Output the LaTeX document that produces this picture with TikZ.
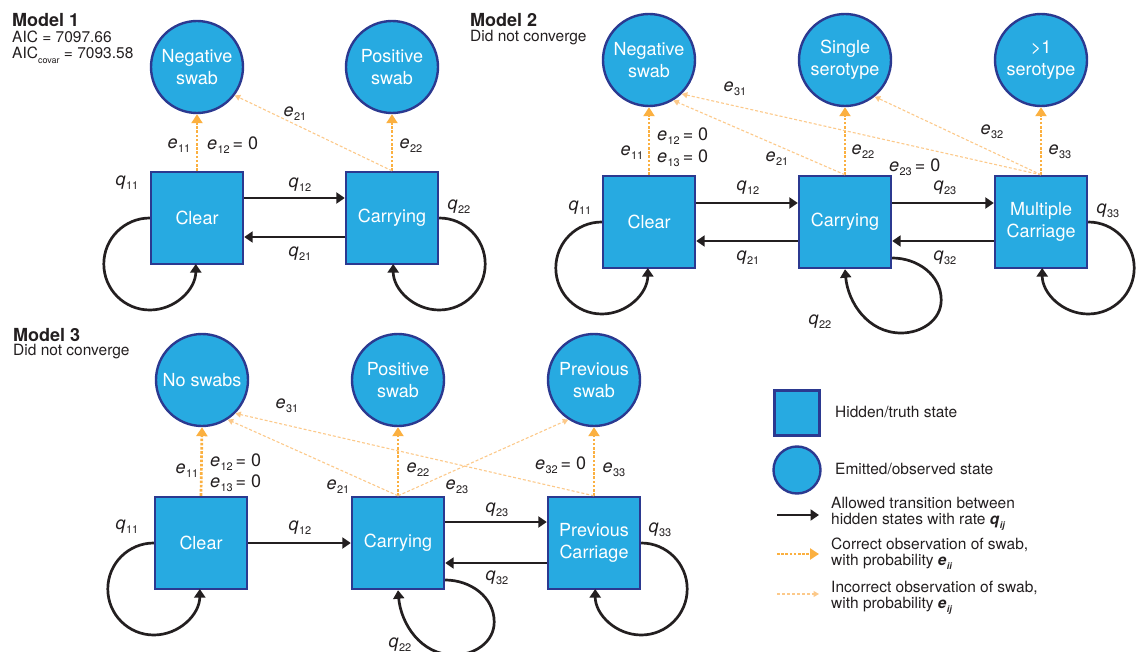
\documentclass[tikz,border=0pt]{standalone}
\usepackage{fontspec}
\setmainfont{TeX Gyre Heros}
\usetikzlibrary{arrows.meta}
\definecolor{boxfill}{HTML}{27AAE1}
\definecolor{boxdraw}{HTML}{2B3990}
\definecolor{ora}{HTML}{FBB040}
\definecolor{oral}{HTML}{FCC98A}
\definecolor{txt}{HTML}{231F20}
\newcommand\sub[2]{\textit{#1}\kern0.3pt\raisebox{-4pt}{\fontsize{11}{11}\selectfont #2}}
\newcommand\bsub[2]{\textbf{\textit{#1}}\kern0.3pt\raisebox{-4pt}{\fontsize{9}{9}\selectfont\textbf{\textit{#2}}}}
\tikzset{
  hid/.style={draw=boxdraw, line width=2.4pt, fill=boxfill, minimum size=92pt, inner sep=0pt,
    text=white, font=\fontsize{18}{22}\selectfont, align=center},
  obs/.style={circle, draw=boxdraw, line width=2.4pt, fill=boxfill, minimum size=92pt, inner sep=0pt,
    text=white, font=\fontsize{18}{22}\selectfont, align=center},
  trans/.style={line width=2.7pt, draw=txt, -{Triangle[length=8.5pt,width=11pt]}},
  corr/.style={line width=2.7pt, draw=ora, dash pattern=on 2.6pt off 1.6pt,
    -{Triangle[length=9pt,width=11pt,fill=ora]}},
  inc/.style={line width=1.1pt, draw=oral, dash pattern=on 3pt off 2pt,
    -{Triangle[length=5.5pt,width=6pt,fill=oral]}},
  lbl/.style={font=\fontsize{18}{20}\selectfont, text=txt, inner sep=0pt},
  lbll/.style={lbl, anchor=west},
  title/.style={font=\fontsize{18}{20}\selectfont\bfseries, text=txt, inner sep=0pt, anchor=base west},
  sub/.style={font=\fontsize{15.5}{16}\selectfont, text=txt, inner sep=0pt, anchor=base west},
  leg/.style={font=\fontsize{15.5}{16}\selectfont, text=txt, inner sep=0pt, anchor=west, align=left},
}
\begin{document}
\begin{tikzpicture}[x=1pt,y=1pt]
\useasboundingbox (0,0) rectangle (1137,-652);

% ---------------- Model 1 ----------------
\node[title] (m1t) at (12,-27) {Model 1};
\node[sub] (m1a) at (12,-43) {AIC = 7097.66};
\node[sub] (m1b) at (12,-59) {AIC\raisebox{-4.5pt}{\fontsize{9}{9}\selectfont covar} = 7093.58};

\node[obs] (c1neg) at (197,-67) {Negative\\swab};
\node[obs] (c1pos) at (392,-67) {Positive\\swab};
\node[hid] (c1clear) at (197,-218) {Clear};
\node[hid] (c1carry) at (392,-218) {Carrying};

\draw[trans] ([yshift=20]c1clear.east) -- ([yshift=20]c1carry.west);
\draw[trans] ([yshift=-19]c1carry.west) -- ([yshift=-19]c1clear.east);
\draw[trans] (c1clear.west) arc[start angle=90,end angle=360,radius=46];
\draw[trans] (c1carry.east) arc[start angle=90,end angle=-180,radius=46];
\draw[corr] (c1clear.north) -- (c1neg.south);
\draw[corr] (c1carry.north) -- (c1pos.south);
\draw[inc] (c1carry.north) -- (c1neg.-37);

\node[lbl] (l1q12) at (300,-185) {\sub{q}{12}};
\node[lbl] (l1q21) at (300,-254) {\sub{q}{21}};
\node[lbl] (l1q11) at (127,-183) {\sub{q}{11}};
\node[lbl] (l1q22) at (459,-207) {\sub{q}{22}};
\node[lbl] (l1e11) at (179,-146) {\sub{e}{11}};
\node[lbll] (l1e12) at (207,-145) {\sub{e}{12}\,= 0};
\node[lbl] (l1e21) at (295,-114) {\sub{e}{21}};
\node[lbl] (l1e22) at (411,-146) {\sub{e}{22}};

% ---------------- Model 2 ----------------
\node[title] (m2t) at (470,-27) {Model 2};
\node[sub] (m2a) at (470,-42) {Did not converge};

\node[obs] (c2neg) at (649,-60) {Negative\\swab};
\node[obs] (c2single) at (845,-60) {Single\\serotype};
\node[obs] (c2multi) at (1041,-60) {{>}1\\serotype};
\node[hid] (c2clear) at (649,-222) {Clear};
\node[hid] (c2carry) at (845,-222) {Carrying};
\node[hid] (c2mc) at (1041,-222) {Multiple\\Carriage};

\draw[trans] ([yshift=19]c2clear.east) -- ([yshift=19]c2carry.west);
\draw[trans] ([yshift=-19]c2carry.west) -- ([yshift=-19]c2clear.east);
\draw[trans] ([yshift=19]c2carry.east) -- ([yshift=19]c2mc.west);
\draw[trans] ([yshift=-19]c2mc.west) -- ([yshift=-19]c2carry.east);
\draw[trans] (c2clear.west) arc[start angle=90,end angle=360,radius=46];
\draw[trans] (c2mc.east) arc[start angle=90,end angle=-180,radius=46];
\draw[trans] ([yshift=-36]c2carry.east) to[out=0,in=90] ++(49,-42) to[out=-90,in=0] ++(-40,-33) to[out=180,in=-85] (c2carry.south);
\draw[corr] (c2clear.north) -- (c2neg.south);
\draw[corr] (c2carry.north) -- (c2single.south);
\draw[corr] (c2mc.north) -- (c2multi.south);
\draw[inc] (c2carry.north) -- (c2neg.-59);
\draw[inc] (c2mc.north) -- (c2neg.-46);
\draw[inc] (c2mc.north) -- (c2single.-51);

\node[lbl] (l2q12) at (748,-188) {\sub{q}{12}};
\node[lbl] (l2q21) at (748,-258) {\sub{q}{21}};
\node[lbl] (l2q23) at (945,-188) {\sub{q}{23}};
\node[lbl] (l2q32) at (945,-258) {\sub{q}{32}};
\node[lbl] (l2q11) at (580,-208) {\sub{q}{11}};
\node[lbl] (l2q33) at (1108,-211) {\sub{q}{33}};
\node[lbl] (l2q22) at (820,-322) {\sub{q}{22}};
\node[lbl] (l2e11) at (632,-153) {\sub{e}{11}};
\node[lbll] (l2e12) at (657,-136) {\sub{e}{12}\,= 0};
\node[lbll] (l2e13) at (657,-158) {\sub{e}{13}\,= 0};
\node[lbl] (l2e31) at (735,-89) {\sub{e}{31}};
\node[lbl] (l2e21) at (777,-159) {\sub{e}{21}};
\node[lbl] (l2e22) at (863,-152) {\sub{e}{22}};
\node[lbll] (l2e23) at (889,-167) {\sub{e}{23}\,= 0};
\node[lbl] (l2e32) at (992,-132) {\sub{e}{32}};
\node[lbl] (l2e33) at (1060,-152) {\sub{e}{33}};

% ---------------- Model 3 ----------------
\node[title] (m3t) at (13,-341) {Model 3};
\node[sub] (m3a) at (13,-355) {Did not converge};

\node[obs] (c3no) at (202,-380) {No swabs};
\node[obs] (c3pos) at (398,-380) {Positive\\swab};
\node[obs] (c3prev) at (594,-380) {Previous\\swab};
\node[hid] (c3clear) at (201,-543) {Clear};
\node[hid] (c3carry) at (398,-543) {Carrying};
\node[hid] (c3pc) at (594,-543) {Previous\\Carriage};

\draw[trans] (c3clear.east) -- (c3carry.west);
\draw[trans] ([yshift=21]c3carry.east) -- ([yshift=21]c3pc.west);
\draw[trans] ([yshift=-20]c3pc.west) -- ([yshift=-20]c3carry.east);
\draw[trans] (c3clear.west) arc[start angle=90,end angle=360,radius=46];
\draw[trans] (c3pc.east) arc[start angle=90,end angle=-180,radius=46];
\draw[trans] ([yshift=-37]c3carry.east) to[out=0,in=90] ++(49,-42) to[out=-90,in=0] ++(-40,-33) to[out=180,in=-85] (c3carry.south);
\draw[corr] (c3clear.north) -- (c3no.south);
\draw[corr] (c3carry.north) -- (c3pos.south);
\draw[corr] (c3pc.north) -- (c3prev.south);
\draw[inc] (c3carry.north) -- (c3no.-57);
\draw[inc] (c3pc.north) -- (c3no.-45);
\draw[inc] (c3carry.north) -- (c3prev.-123);

\node[lbl] (l3q12) at (300,-528) {\sub{q}{12}};
\node[lbl] (l3q23) at (497,-510) {\sub{q}{23}};
\node[lbl] (l3q32) at (497,-578) {\sub{q}{32}};
\node[lbl] (l3q11) at (127,-527) {\sub{q}{11}};
\node[lbl] (l3q33) at (660,-530) {\sub{q}{33}};
\node[lbl] (l3q22) at (400,-645) {\sub{q}{22}};
\node[lbl] (l3e11) at (187,-471) {\sub{e}{11}};
\node[lbll] (l3e12) at (210,-462) {\sub{e}{12}\,= 0};
\node[lbll] (l3e13) at (210,-483) {\sub{e}{13}\,= 0};
\node[lbl] (l3e31) at (287,-406) {\sub{e}{31}};
\node[lbl] (l3e21) at (338,-487) {\sub{e}{21}};
\node[lbl] (l3e22) at (418,-470) {\sub{e}{22}};
\node[lbl] (l3e23) at (457,-487) {\sub{e}{23}};
\node[lbll] (l3e32) at (535,-465) {\sub{e}{32}\,= 0};
\node[lbl] (l3e33) at (614,-470) {\sub{e}{33}};

% ---------------- Legend ----------------
\node[hid, minimum size=45pt] (lgbox) at (797,-413) {};
\node[obs, minimum size=47pt] (lgcirc) at (797,-470) {};
\node[leg] (lgt1) at (835,-412) {Hidden/truth state};
\node[leg] (lgt2) at (835,-469) {Emitted/observed state};
\coordinate (la1) at (777,-515); \coordinate (la2) at (819,-515);
\coordinate (lb1) at (777,-554); \coordinate (lb2) at (819,-554);
\coordinate (lc1) at (777,-594); \coordinate (lc2) at (819,-594);
\draw[trans] (la1) -- (la2);
\draw[corr] (lb1) -- (lb2);
\draw[inc] (lc1) -- (lc2);
\node[leg] (lgt3) at (831,-514) {Allowed transition between\\hidden states with rate \bsub{q}{ij}};
\node[leg] (lgt4) at (831,-554) {Correct observation of swab,\\with probability \bsub{e}{ii}};
\node[leg] (lgt5) at (831,-598) {Incorrect observation of swab,\\with probability \bsub{e}{ij}};
\end{tikzpicture}
\end{document}
